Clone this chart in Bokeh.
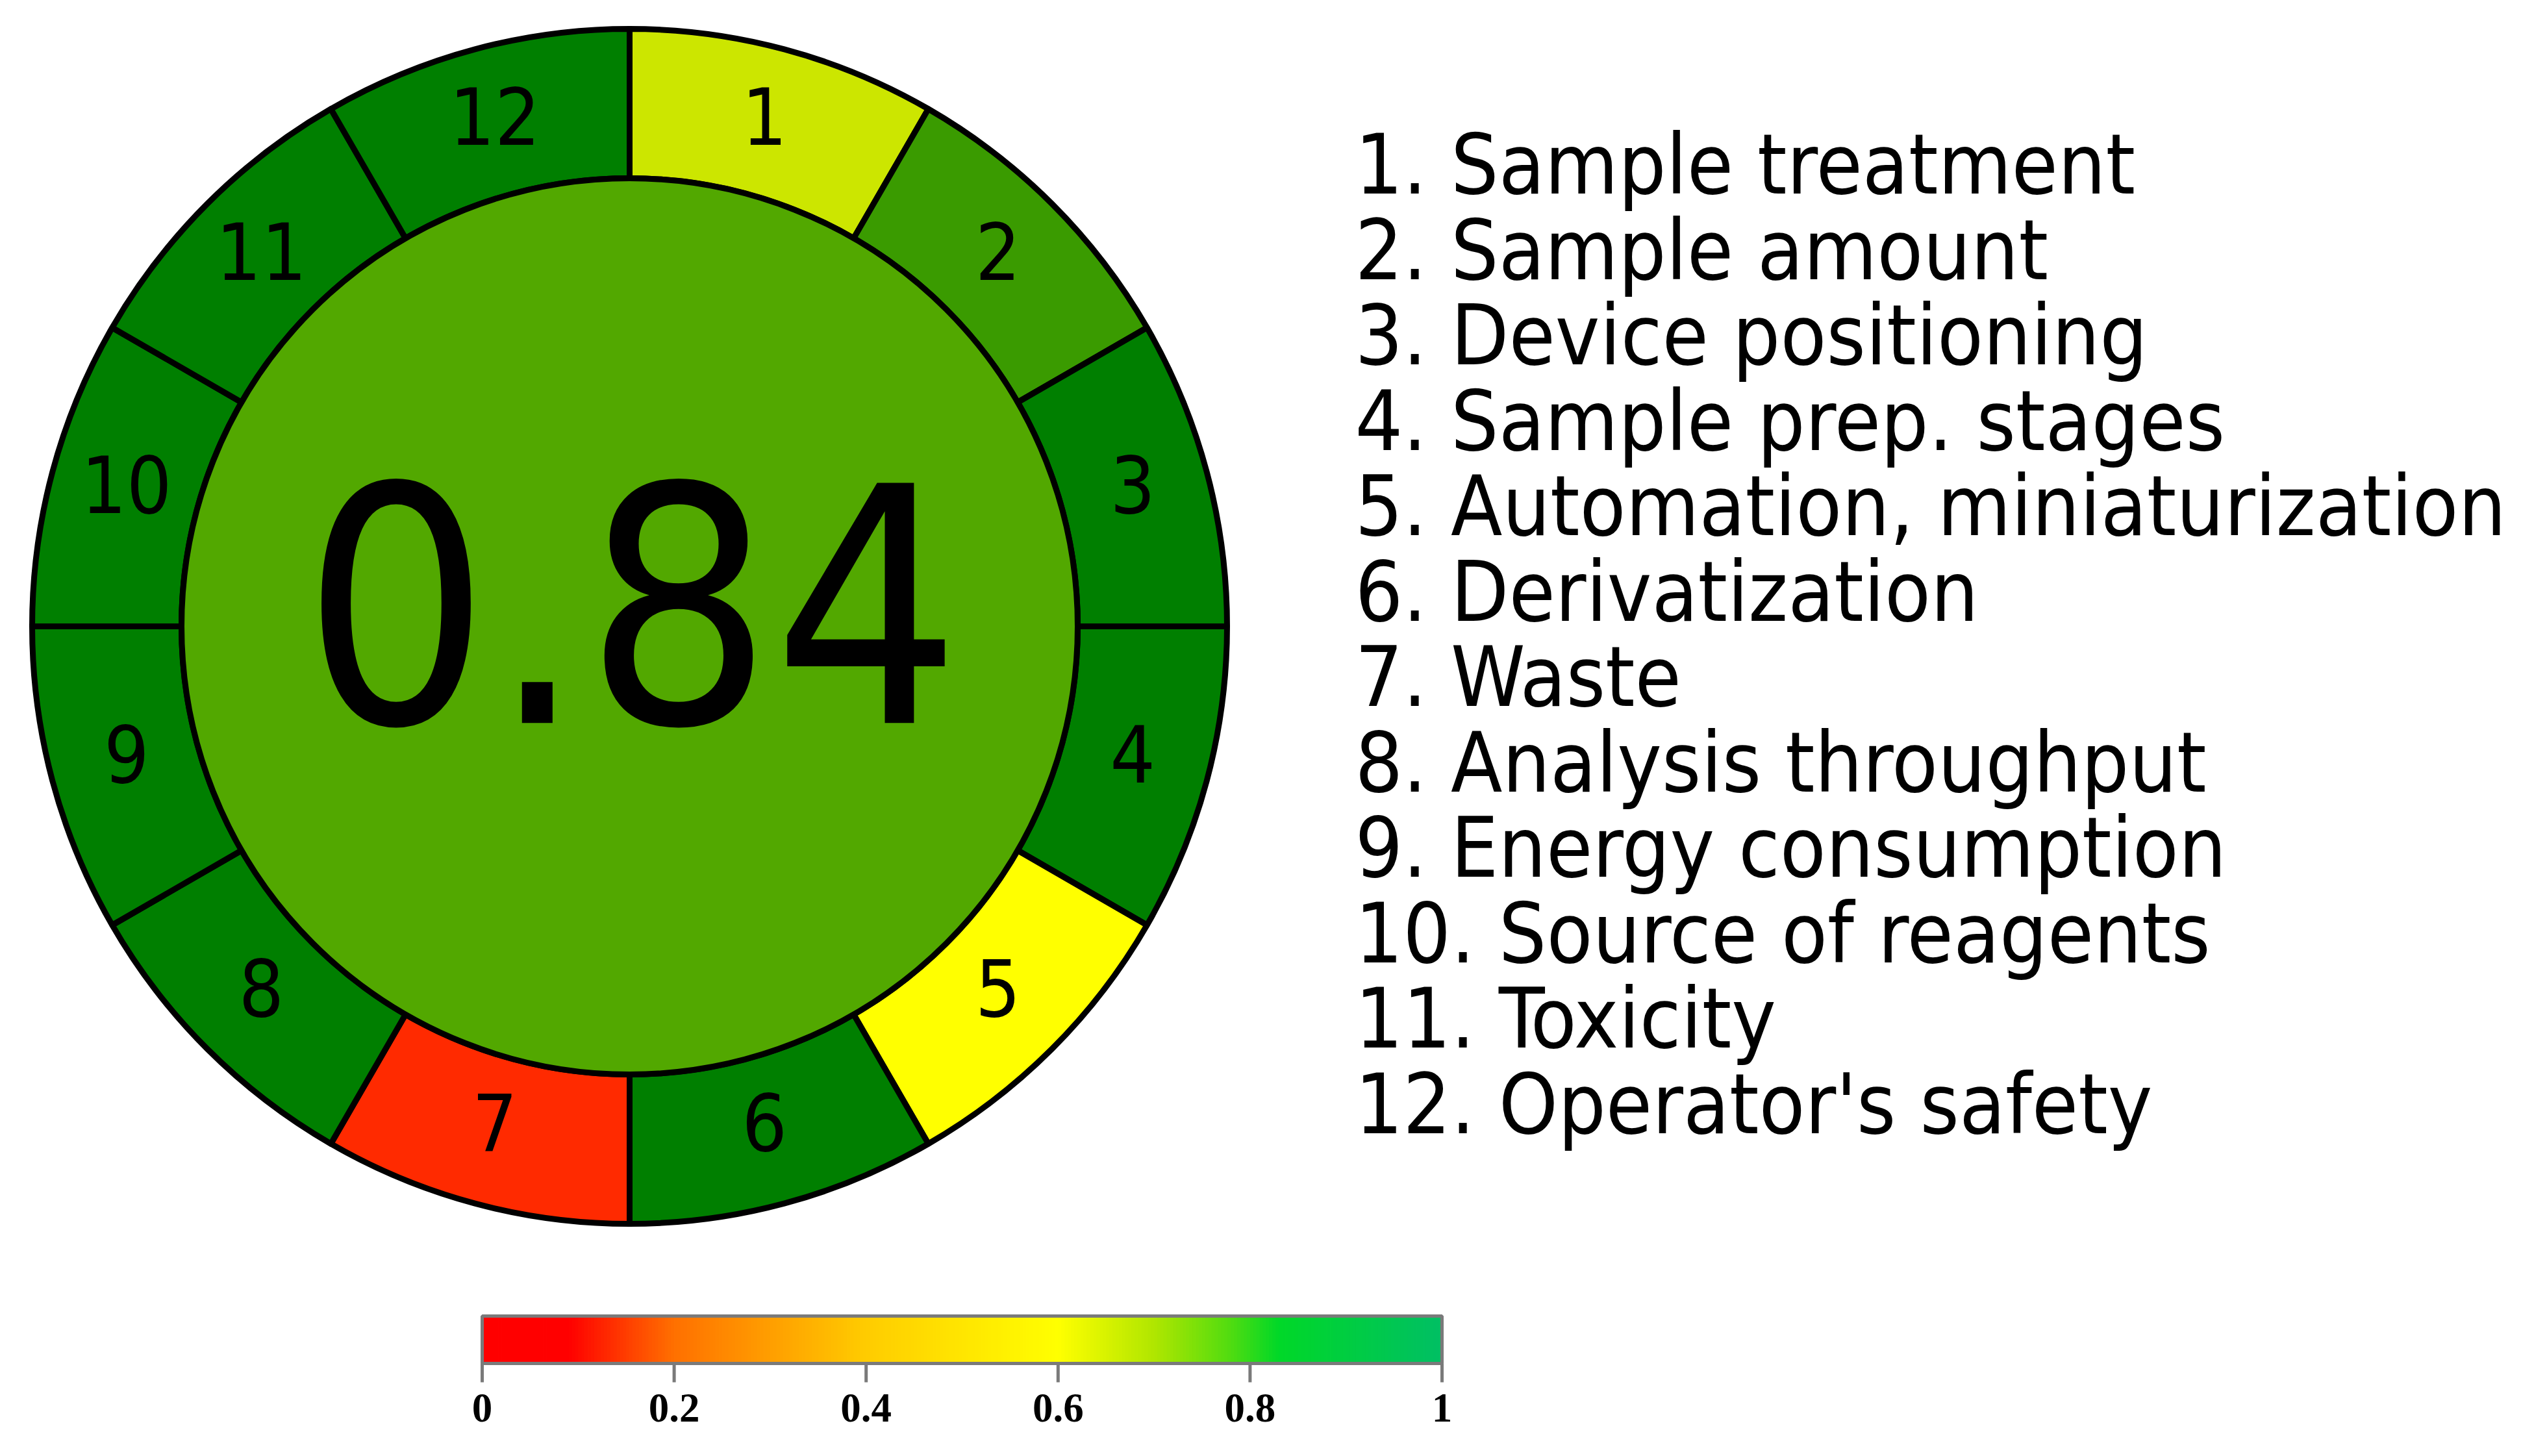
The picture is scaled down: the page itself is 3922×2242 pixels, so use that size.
import numpy as np
from bokeh.plotting import figure
from bokeh.models import Range1d, ColumnDataSource
from bokeh.core.properties import value
from bokeh.embed import file_html
from bokeh.resources import INLINE

# ---------------- data ----------------
criteria = [
    "Sample treatment",
    "Sample amount",
    "Device positioning",
    "Sample prep. stages",
    "Automation, miniaturization",
    "Derivatization",
    "Waste",
    "Analysis throughput",
    "Energy consumption",
    "Source of reagents",
    "Toxicity",
    "Operator's safety",
]
segment_numbers = ["1", "2", "3", "4", "5", "6", "7", "8", "9", "10", "11", "12"]
segment_colors = ["#CCE600", "#3A9B00", "#007F00", "#007F00", "#FFFF00", "#007F00",
                  "#FF2A00", "#007F00", "#007F00", "#007F00", "#007F00", "#007F00"]
total_score = "0.84"
total_color = "#52A800"

cbar_ticks = [0.0, 0.2, 0.4, 0.6, 0.8, 1.0]
cbar_tick_labels = ["0", "0.2", "0.4", "0.6", "0.8", "1"]
cbar_stops = [0.0, 0.09, 0.2, 0.4, 0.6, 0.7, 0.78, 0.83, 1.0]
cbar_stop_colors = ["#ff0000", "#ff0000", "#ff7000", "#ffcc00", "#ffff00",
                    "#b0e600", "#50dc10", "#00d828", "#00bf64"]

# ---------------- layout helpers ----------------
W, H = 3906, 2226
def sy(v):
    return 2242 - v

SHIFT = 0.35  # rendered baseline offset (em) to compensate

def base(y_screen, fs):
    return sy(y_screen - SHIFT * fs)

CX, CY = 977, 972
R_OUT, R_IN = 920, 690
LABEL_R = 802

FONT = "DejaVu Sans Condensed"

p = figure(width=W, height=H, output_backend="svg", toolbar_location=None,
           x_range=Range1d(8, 8 + W), y_range=Range1d(8, 8 + H),
           x_axis_type=None, y_axis_type=None, min_border=0)
p.outline_line_color = None
p.background_fill_color = "white"
p.border_fill_color = "white"

# ---------------- ring segments ----------------
n = len(segment_colors)
starts = [90 - 360 / n * (k + 1) for k in range(n)]
ends = [90 - 360 / n * k for k in range(n)]
mids = np.deg2rad([(s + e) / 2 for s, e in zip(starts, ends)])
seg_src = ColumnDataSource(dict(
    x=[CX] * n, y=[sy(CY)] * n, start=starts, end=ends, color=segment_colors))
p.annular_wedge(x="x", y="y", inner_radius=R_IN, outer_radius=R_OUT,
                start_angle="start", end_angle="end",
                start_angle_units="deg", end_angle_units="deg",
                fill_color="color", line_color="black", line_width=9,
                source=seg_src)

# inner circle
p.circle(x=[CX], y=[sy(CY)], radius=R_IN, fill_color=total_color,
         line_color="black", line_width=9)

# segment numbers
seg_fs = 122
lx = [CX + LABEL_R * np.cos(a) for a in mids]
ly = [base(CY - LABEL_R * np.sin(a) - 13 + 0.3645 * seg_fs, seg_fs) for a in mids]
p.text(x=lx, y=ly, text=segment_numbers,
       text_font=value(FONT), text_font_size=f"{seg_fs}px",
       text_align="center", text_baseline="alphabetic", text_color="black")

# total score
big_fs = 507
p.text(x=[980], y=[base(1112, big_fs)], text=[total_score], text_font=value(FONT),
       text_font_size=f"{big_fs}px", text_align="center", text_baseline="alphabetic",
       text_color="black")

# ---------------- legend ----------------
leg_fs = 129
leg_text = [f"{num}. {c}" for num, c in zip(segment_numbers, criteria)]
leg_y = [base(306 + 131.5 * i, leg_fs) for i in range(len(leg_text))]
p.text(x=[2094] * len(leg_text), y=leg_y, text=leg_text, text_font=value(FONT),
       text_font_size=f"{leg_fs}px", text_align="left",
       text_baseline="alphabetic", text_color="black")

# ---------------- colour bar ----------------
CB_L, CB_R, CB_T, CB_B = 750, 2228, 2034, 2107
N = 300
edges = np.linspace(0, 1, N + 1)
mid_t = (edges[:-1] + edges[1:]) / 2
rgb = [tuple(int(c[i:i + 2], 16) for i in (1, 3, 5)) for c in cbar_stop_colors]
chan = [np.interp(mid_t, cbar_stops, [c[j] for c in rgb]) for j in range(3)]
cells = ["#%02x%02x%02x" % (int(round(r)), int(round(g)), int(round(b)))
         for r, g, b in zip(*chan)]
xe = CB_L + edges * (CB_R - CB_L)
p.quad(left=xe[:-1], right=xe[1:] + 0.8, top=[sy(CB_T)] * N, bottom=[sy(CB_B)] * N,
       fill_color=cells, line_color=None)
p.quad(left=[CB_L], right=[CB_R], top=[sy(CB_T)], bottom=[sy(CB_B)],
       fill_color=None, line_color="#7a7a7a", line_width=5)

tick_x = [CB_L + t * (CB_R - CB_L) for t in cbar_ticks]
p.segment(x0=tick_x, y0=[sy(CB_B)] * len(tick_x), x1=tick_x,
          y1=[sy(2136)] * len(tick_x), line_color="#7a7a7a", line_width=5)
cb_fs = 63
p.text(x=tick_x, y=[base(2198, cb_fs)] * len(tick_x), text=cbar_tick_labels,
       text_font=value("Liberation Serif"), text_font_style="bold",
       text_font_size=f"{cb_fs}px", text_align="center", text_baseline="alphabetic",
       text_color="black")

open("out.html", "w").write(file_html(p, INLINE))
